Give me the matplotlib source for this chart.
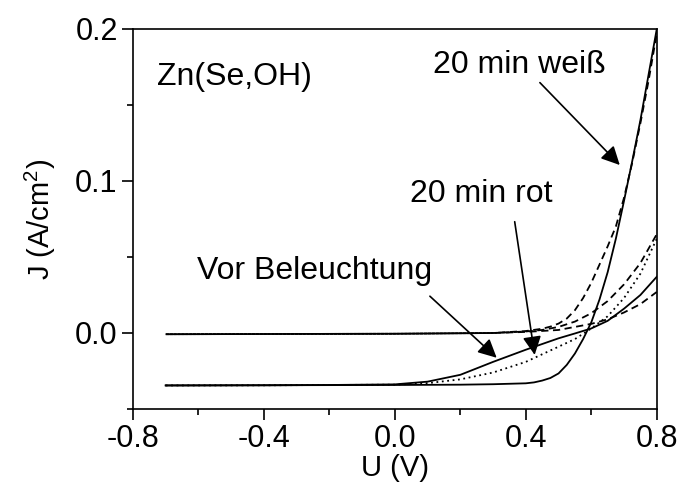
import numpy as np
import matplotlib
matplotlib.use('Agg')
import matplotlib.pyplot as plt

plt.rcParams['font.family'] = ['Liberation Sans', 'DejaVu Sans']
plt.rcParams['mathtext.fontset'] = 'custom'
plt.rcParams['mathtext.rm'] = 'Liberation Sans'
plt.rcParams['mathtext.it'] = 'Liberation Sans'

# light curves (illuminated)
u_vor_hell = [-0.7, -0.4, -0.2, 0.0, 0.1, 0.2, 0.3, 0.4, 0.5, 0.55, 0.6, 0.65, 0.7, 0.75, 0.8]
j_vor_hell = [-0.0345, -0.0344, -0.0342, -0.0338, -0.032, -0.0275, -0.019, -0.011, -0.0035, -0.0003, 0.003, 0.008, 0.016, 0.025, 0.037]

u_rot_hell = [-0.7, -0.4, 0.0, 0.1, 0.2, 0.3, 0.4, 0.5, 0.55, 0.6, 0.65, 0.7, 0.75, 0.8]
j_rot_hell = [-0.0345, -0.0344, -0.034, -0.033, -0.0305, -0.026, -0.019, -0.009, -0.004, 0.003, 0.011, 0.023, 0.039, 0.062]

u_weiss_hell = [-0.7, 0.0, 0.2, 0.3, 0.4, 0.425, 0.45, 0.475, 0.5, 0.525, 0.55, 0.575, 0.6, 0.625, 0.65, 0.675, 0.7, 0.725, 0.75, 0.775, 0.8]
j_weiss_hell = [-0.0345, -0.0342, -0.034, -0.0337, -0.0331, -0.0325, -0.0313, -0.0296, -0.0266, -0.021, -0.0135, -0.004, 0.007, 0.022, 0.04, 0.062, 0.087, 0.113, 0.14, 0.17, 0.2]

# dark curves
u_vor_dunkel = [-0.7, 0.0, 0.3, 0.4, 0.5, 0.55, 0.6, 0.65, 0.7, 0.75, 0.8]
j_vor_dunkel = [-0.0008, -0.0005, 0.0, 0.0007, 0.002, 0.004, 0.006, 0.009, 0.0135, 0.019, 0.027]

u_rot_dunkel = [-0.7, 0.0, 0.3, 0.4, 0.45, 0.5, 0.55, 0.6, 0.65, 0.7, 0.75, 0.8]
j_rot_dunkel = [-0.0008, -0.0005, 0.0, 0.001, 0.002, 0.004, 0.0075, 0.013, 0.021, 0.032, 0.046, 0.065]

u_weiss_dunkel = [-0.7, 0.0, 0.3, 0.4, 0.45, 0.475, 0.5, 0.525, 0.55, 0.575, 0.6, 0.625, 0.65, 0.675, 0.7, 0.725, 0.75, 0.775, 0.8]
j_weiss_dunkel = [-0.0008, -0.0005, 0.0, 0.0013, 0.0028, 0.0042, 0.0062, 0.0095, 0.015, 0.023, 0.033, 0.045, 0.057, 0.07, 0.089, 0.112, 0.138, 0.166, 0.197]

fig = plt.figure(figsize=(6.82, 4.91), dpi=100)
ax = fig.add_axes([0.195, 0.167, 0.768, 0.774])

lw = 1.3
ax.plot(u_vor_hell, j_vor_hell, color='k', lw=lw)
ax.plot(u_rot_hell, j_rot_hell, color='k', lw=lw, linestyle=(0, (1, 2)))
ax.plot(u_weiss_hell, j_weiss_hell, color='k', lw=lw)
# dark curves: dashed, phases shifted so the overlapping flat parts look solid
ax.plot(u_vor_dunkel, j_vor_dunkel, color='k', lw=lw, linestyle=(0, (4, 2.5)))
ax.plot(u_rot_dunkel, j_rot_dunkel, color='k', lw=lw, linestyle=(2.2, (4, 2.5)))
ax.plot(u_weiss_dunkel, j_weiss_dunkel, color='k', lw=lw, linestyle=(4.4, (4, 2.5)))

ax.set_xlim(-0.8, 0.8)
ax.set_ylim(-0.05, 0.2)
ax.set_xticks([-0.8, -0.4, 0.0, 0.4, 0.8])
ax.set_xticks([-0.6, -0.2, 0.2, 0.6], minor=True)
ax.set_yticks([0.0, 0.1, 0.2])
ax.set_yticks([-0.05, 0.05, 0.15], minor=True)
ax.set_xticklabels(['-0.8', '-0.4', '0.0', '0.4', '0.8'])
ax.set_yticklabels(['0.0', '0.1', '0.2'])
ax.tick_params(which='major', direction='out', length=8, width=1.2, labelsize=22, pad=3)
ax.tick_params(which='minor', direction='out', length=4, width=1.2)
for s in ax.spines.values():
    s.set_linewidth(1.2)

ax.set_xlabel('U (V)', fontsize=21, labelpad=0)
ax.set_ylabel(r'J (A/cm$^2$)', fontsize=21, labelpad=12)

ax.text(-0.727, 0.1686, 'Zn(Se,OH)', fontsize=23, va='center', ha='left')

ap = dict(arrowstyle='-|>', mutation_scale=28, lw=1.2, color='k', shrinkA=0, shrinkB=0)
ax.annotate('', xy=(0.687, 0.1105), xytext=(0.443, 0.1647), arrowprops=ap)
ax.annotate('', xy=(0.427, -0.0144), xytext=(0.366, 0.0732), arrowprops=ap)
ax.annotate('', xy=(0.311, -0.0163), xytext=(0.107, 0.0242), arrowprops=ap)
ax.text(0.116, 0.176, '20 min weiß', fontsize=23, va='center', ha='left')
ax.text(0.046, 0.0915, '20 min rot', fontsize=23, va='center', ha='left')
ax.text(-0.605, 0.041, 'Vor Beleuchtung', fontsize=23, va='center', ha='left')

fig.savefig('out.png', dpi=100)
